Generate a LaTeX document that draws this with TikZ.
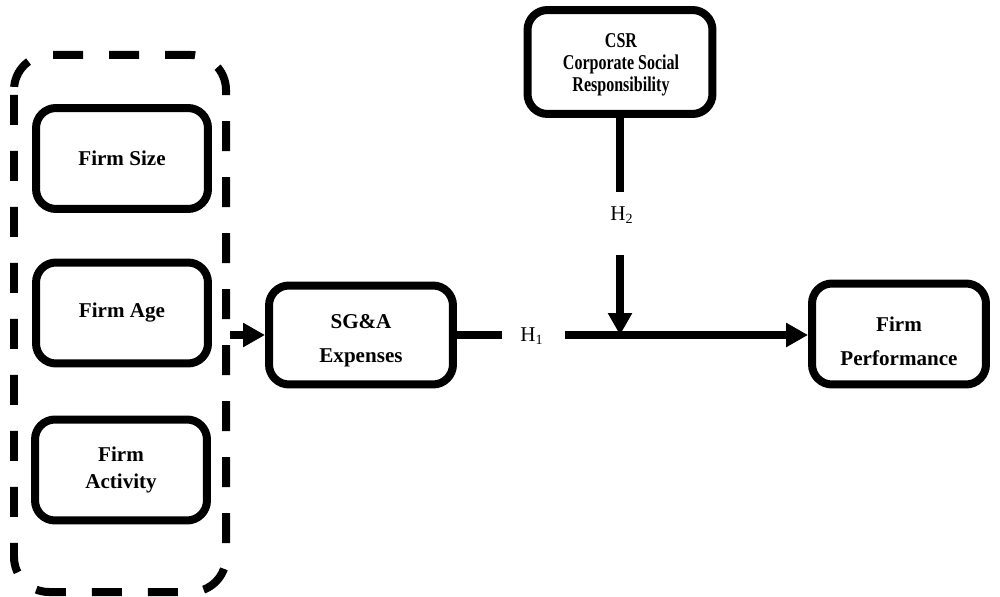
\documentclass[tikz,border=0pt]{standalone}
\usepackage{fontspec}
\setmainfont{Liberation Serif}
\newfontfamily\condserif[FakeStretch=0.76]{Liberation Serif}
\usetikzlibrary{arrows.meta}
\begin{document}
\begin{tikzpicture}[x=0.02cm,y=-0.02cm,
  box/.style={draw, line width=0.16cm, rounded corners=0.4cm, minimum width=3.44cm,
    minimum height=2.02cm, inner sep=0pt, align=center,
    font=\bfseries\fontsize{12}{15.3}\selectfont},
  boxtext/.style={inner sep=0pt, align=center, font=\bfseries\fontsize{12}{19.5}\selectfont},
  conn/.style={line width=0.16cm},
  arr/.style={conn, -{Triangle[length=0.44cm,width=0.46cm]}},
  hyp/.style={inner sep=0pt, font=\fontsize{12}{14}\selectfont},
  groupline/.style={line width=0.16cm, rounded corners=0.7cm,
    dash pattern=on 0.6cm off 0.52cm}
]
\useasboundingbox (0,0) rectangle (1000,597);

% grouped control variables (dashed frame)
\draw[groupline] (14,95) -- (14,592) -- (226,592) -- (226,55) -- (14,55) -- (14,95);
\coordinate (grpe) at (230,335);
\node[box] (size) at (122,158.5) {Firm Size};
\node[box] (age) at (122,313) {Firm Age};
\node[box] (act) at (121,470) {Firm\\Activity};

% main boxes
\node[box, minimum width=3.68cm, minimum height=1.98cm] (sga) at (361,335) {};
\node[boxtext] (sgat) at (361,341) {SG\&A\\Expenses};

\node[box, minimum width=3.48cm, minimum height=2.02cm] (fp) at (899,334) {};
\node[boxtext] (fpt) at (899,341) {Firm\\Performance};

\node[box, minimum width=3.7cm, minimum height=2.08cm] (csr) at (620,62) {};
\node[inner sep=0pt, align=center, font=\condserif\bfseries\fontsize{12}{12.6}\selectfont] (csrt) at (621,65)
  {CSR\\Corporate Social\\Responsibility};

% connectors
\coordinate (h1a) at (502,335);
\coordinate (h1b) at (565,335);
\coordinate (junc) at (620,335);
\coordinate (h2a) at (620,192);
\coordinate (h2b) at (620,255);

\draw[arr] (grpe) -- (sga.west);
\draw[conn] (sga.east) -- (h1a);
\node[hyp] (h1) at (532,336) {H\textsubscript{1}};
\draw[arr] (h1b) -- (h1b -| fp.west);

\draw[conn] (csr.south) -- (h2a);
\node[hyp] (h2) at (622,215) {H\textsubscript{2}};
\draw[arr] (h2b) -- (junc);
\end{tikzpicture}
\end{document}
